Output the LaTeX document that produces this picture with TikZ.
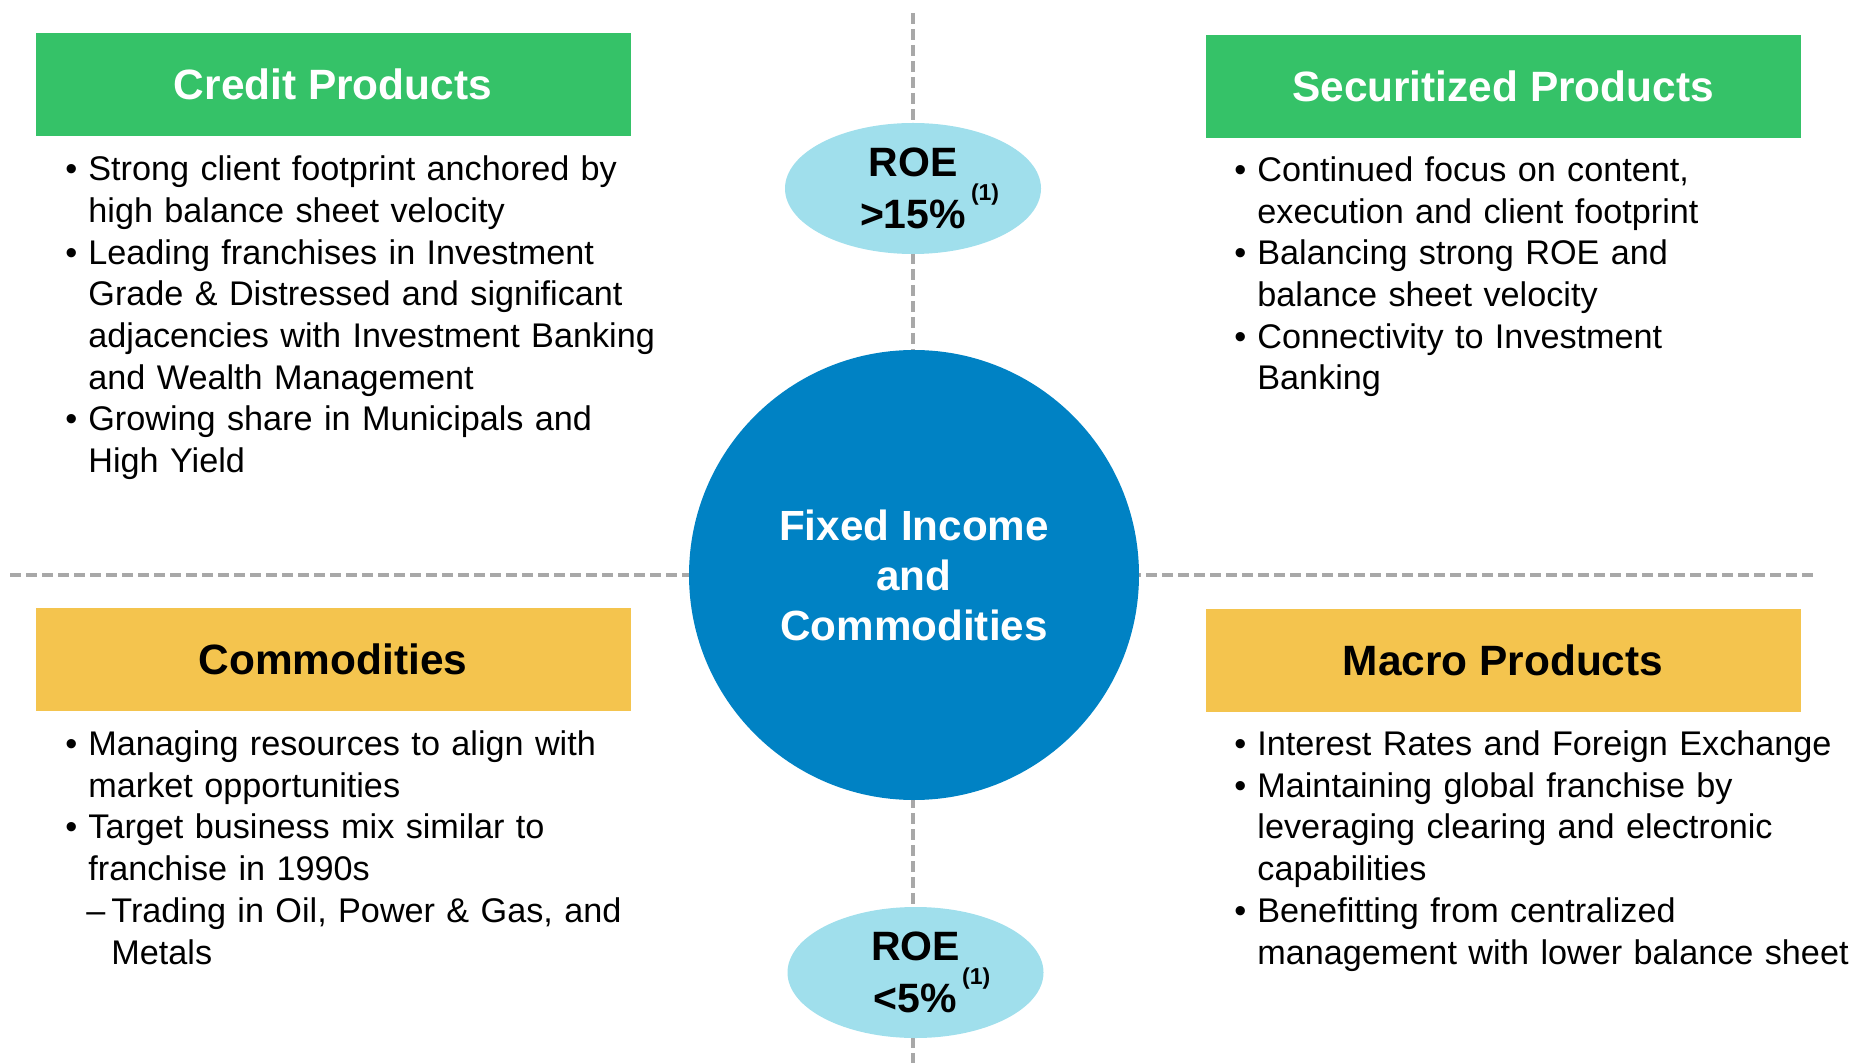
\documentclass[tikz,border=0pt]{standalone}
\usepackage{fontspec}
\setmainfont{Liberation Sans}
\usepackage{tikz}
\usetikzlibrary{positioning,shapes.geometric}
\definecolor{ficGreen}{RGB}{53,194,104}
\definecolor{ficYellow}{RGB}{244,196,78}
\definecolor{ficBlue}{RGB}{0,130,196}
\definecolor{ficSky}{RGB}{160,223,236}
\definecolor{ficGrey}{RGB}{168,168,168}
% bullet hanging left of the text, footnote mark that does not shift centring
\newcommand{\bul}{\leavevmode\llap{\textbullet\hspace{5.5pt}}}
\newcommand{\fnmark}{\rlap{\hspace{2.5pt}\raisebox{14pt}{\fontsize{11.5}{12}\selectfont(1)}}}

\begin{document}
\begin{tikzpicture}[
    x=0.5pt, y=-0.5pt,
    every node/.style={font=\fontsize{17.1}{20.85}\selectfont, inner sep=0pt},
    header/.style={rectangle, minimum width=297.5pt, minimum height=51.5pt,
        font=\fontsize{21.2}{25}\selectfont\bfseries},
    greenhead/.style={header, fill=ficGreen, text=white},
    yellowhead/.style={header, fill=ficYellow, text=black},
    points/.style={anchor=base west, text width=330pt, align=left},
    roe/.style={ellipse, fill=ficSky, minimum width=128pt, minimum height=65.5pt,
        align=center, font=\fontsize{20.5}{26}\selectfont\bfseries},
    hub/.style={circle, fill=ficBlue, minimum size=225pt, align=center, text=white,
        font=\fontsize{21.1}{25}\selectfont\bfseries},
    divider/.style={ficGrey, line width=1.7pt, dash pattern=on 5.5pt off 2.5pt},
    ]
    \useasboundingbox (0,0) rectangle (1856,1063);
    % Dividers
    \coordinate (vtop) at (913,13);
    \coordinate (vbot) at (913,1063);
    \coordinate (hleft) at (10,575);
    \coordinate (hright) at (1817,575);
    \draw[divider] (vtop) -- (vbot);
    \draw[divider] (hleft) -- (hright);
    % Centre
    \node[hub] (fic) at (914,575) {Fixed Income\\and\\Commodities};
    \node[roe] (roehi) at (913,188.5) {ROE\\>15\%\fnmark};
    \node[roe] (roelo) at (915.5,972.5) {ROE\\<5\%\fnmark};
    % Headers
    \node[greenhead]  (credit) at (333,84.5)   {Credit Products};
    \node[greenhead]  (secur)  at (1503,86.5)  {Securitized Products};
    \node[yellowhead] (commod) at (333,659)    {Commodities};
    \node[yellowhead] (macro)  at (1503,660.5) {Macro Products};
    % Points
    \node[points] (creditpts) at (88,180.7) {\bul Strong client footprint anchored by\\
        high balance sheet velocity\\
        \bul Leading franchises in Investment\\
        Grade \& Distressed and significant\\
        adjacencies with Investment Banking\\
        and Wealth Management\\
        \bul Growing share in Municipals and\\
        High Yield};
    \node[points] (securpts) at (1257,181.5) {\bul Continued focus on content,\\
        execution and client footprint\\
        \bul Balancing strong ROE and\\
        balance sheet velocity\\
        \bul Connectivity to Investment\\
        Banking};
    \node[points] (commodpts) at (88,755.5) {\bul Managing resources to align with\\
        market opportunities\\
        \bul Target business mix similar to\\
        franchise in 1990s\\
        \hspace*{-1pt}–\hspace{3pt}Trading in Oil, Power \& Gas, and\\
        \hspace*{11.5pt}Metals};
    \node[points] (macropts) at (1257,755.5) {\bul Interest Rates and Foreign Exchange\\
        \bul Maintaining global franchise by\\
        leveraging clearing and electronic\\
        capabilities\\
        \bul Benefitting from centralized\\
        management with lower balance sheet};
\end{tikzpicture}
\end{document}
